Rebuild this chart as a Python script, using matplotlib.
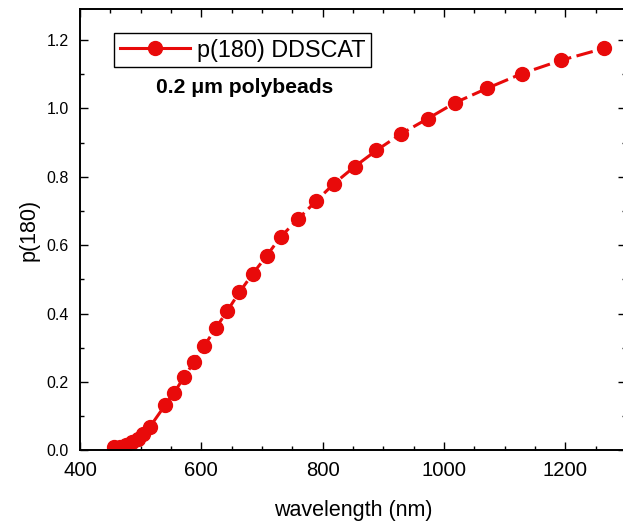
import matplotlib
matplotlib.use("Agg")
import matplotlib.pyplot as plt
from matplotlib.ticker import MultipleLocator

wavelength = [456.5, 465.9, 475.3, 485.2, 495.1, 504.3, 515.4, 540.6, 555.4, 571.4,
              587.9, 604.9, 623.7, 642.8, 662.6, 684.6, 707.7, 730.5, 759.8, 788.5,
              818.7, 852.8, 888.4, 928.6, 973.0, 1018.6, 1071.3, 1128.5, 1193.3, 1264.2]
p180 = [0.009, 0.011, 0.016, 0.024, 0.034, 0.048, 0.069, 0.133, 0.169, 0.214,
        0.258, 0.306, 0.357, 0.408, 0.462, 0.516, 0.569, 0.624, 0.677, 0.728,
        0.780, 0.830, 0.877, 0.925, 0.970, 1.017, 1.059, 1.102, 1.141, 1.176]
series_label = "p(180) DDSCAT"
annotation = "0.2 \u03bcm polybeads"
x_label = "wavelength (nm)"
y_label = "p(180)"

plt.rcParams['font.family'] = ['Liberation Sans', 'DejaVu Sans']

fig = plt.figure(figsize=(6.23, 5.27), dpi=100)
ax = fig.add_axes([80/623, (527-450.3)/527, 546/623, 441/527])

red = '#e80a0a'
ax.plot(wavelength, p180, color=red, lw=2.2, dashes=(5.5, 1.8),
        marker='o', markersize=10, markerfacecolor=red, markeredgecolor=red,
        label=series_label)

ax.set_xlim(400, 1300)
ax.set_ylim(0, 1.29)
ax.xaxis.set_major_locator(MultipleLocator(200))
ax.xaxis.set_minor_locator(MultipleLocator(50))
ax.yaxis.set_major_locator(MultipleLocator(0.2))
ax.yaxis.set_minor_locator(MultipleLocator(0.1))
ax.yaxis.set_major_formatter(plt.FuncFormatter(lambda v, p: f"{v:.1f}"))

ax.tick_params(which='both', direction='in', top=True, right=True, width=1.0, color='black')
ax.tick_params(which='major', length=5.8)
ax.tick_params(which='minor', length=2.9)
ax.tick_params(axis='x', which='major', labelsize=14.6, pad=8)
ax.tick_params(axis='y', which='major', labelsize=11.5, pad=8)
for s in ax.spines.values():
    s.set_linewidth(1.4)

ax.set_xlabel(x_label, fontsize=15.5, labelpad=14)
ax.set_ylabel(y_label, fontsize=15.5, labelpad=5)

leg = ax.legend(loc='upper left', bbox_to_anchor=(0.0628, 0.947), borderaxespad=0,
                fontsize=16.8, frameon=True, fancybox=False, edgecolor='black',
                framealpha=1, borderpad=0.25, handlelength=3.0, handletextpad=0.3)
leg.get_frame().set_linewidth(1.0)
for hl in leg.get_lines():
    hl.set_linestyle('-')

ax.text(0.302, 0.822, annotation, transform=ax.transAxes, ha='center', va='center',
        fontsize=15.2, fontweight='bold')

fig.savefig('out.png', dpi=100)
